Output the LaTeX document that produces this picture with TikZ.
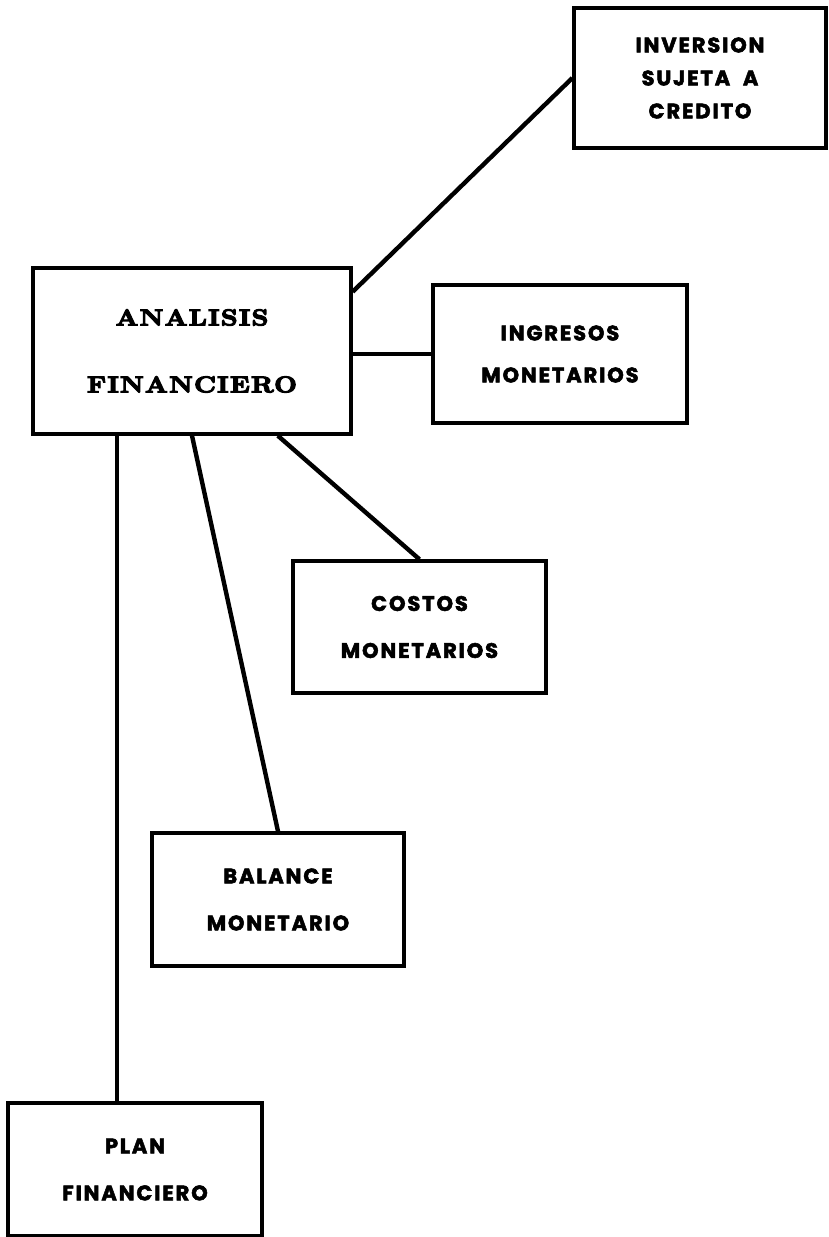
\documentclass[tikz,border=0pt]{standalone}
\usepackage{fontspec}
\usetikzlibrary{calc}
\newfontfamily\boxfont[LetterSpace=9,FakeBold=2.5]{Poppins}
\newfontfamily\titlefont[Extension=.otf,LetterSpace=5,FakeBold=5,FakeStretch=1.15]{lmroman10-bold}
\begin{document}
\begin{tikzpicture}[x=1pt,y=-1pt,
  box/.style={draw=black,line width=3.3pt,rectangle,inner sep=0pt,align=center,
    font=\boxfont\bfseries\fontsize{21}{24}\selectfont},
  titlebox/.style={box,font=\titlefont\fontsize{23}{26}\selectfont},
  link/.style={draw=black,line width=4.4pt}]
\useasboundingbox (0,0) rectangle (828,1237);
\node[titlebox,minimum width=318pt,minimum height=166pt] (ana) at (192,351) {ANALISIS\\[41pt]FINANCIERO};
\node[box,minimum width=252pt,minimum height=140pt] (inv) at (700,78) {INVERSION\\[9pt]SUJETA\ \ A\\[9pt]CREDITO};
\node[box,minimum width=254pt,minimum height=138pt] (ing) at (560,354) {INGRESOS\\[18pt]MONETARIOS};
\node[box,minimum width=253pt,minimum height=132pt] (cos) at (419.5,627) {COSTOS\\[23pt]MONETARIOS};
\node[box,minimum width=252pt,minimum height=133pt] (bal) at (278,899.5) {BALANCE\\[23pt]MONETARIO};
\node[box,minimum width=254pt,minimum height=133pt] (plan) at (135,1169.5) {PLAN\\[23pt]FINANCIERO};
\coordinate (a1) at ($(ana.north east)!0.15!(ana.south east)$);
\coordinate (a2) at ($(ana.south west)!0.767!(ana.south east)$);
\coordinate (a3) at ($(ana.south west)!0.267!(ana.south east)$);
\draw[link] (a1) -- (inv.west);
\draw[link] (ing.west -| ana.east) -- (ing.west);
\draw[link] (a2) -- (cos.north);
\draw[link] (ana.south) -- (bal.north);
\draw[link] (a3) -- (a3 |- plan.north);
\end{tikzpicture}
\end{document}
